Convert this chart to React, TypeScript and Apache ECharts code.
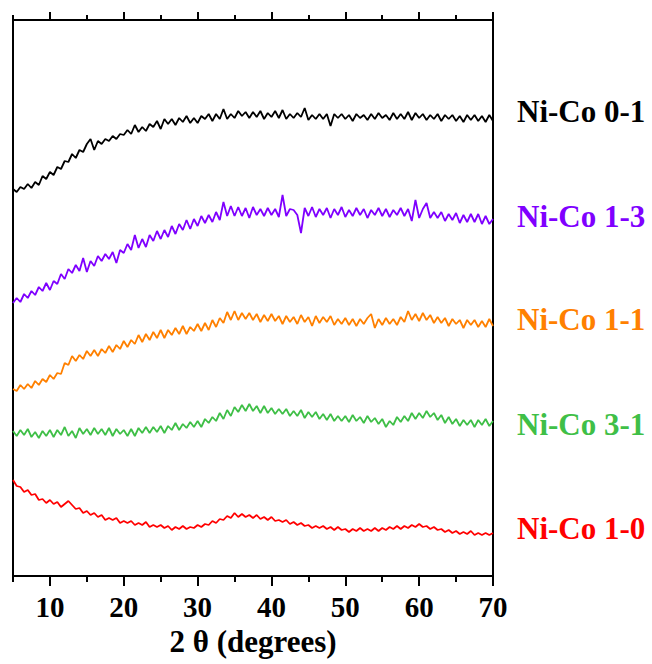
import React, { useEffect, useRef } from "react";
import * as echarts from "echarts";

// 2θ sampling positions (degrees)
const twoTheta = [
  5, 5.5, 6, 6.5, 7, 7.5, 8, 8.5, 9, 9.5,
  10, 10.5, 11, 11.5, 12, 12.5, 13, 13.5, 14, 14.5,
  15, 15.5, 16, 16.5, 17, 17.5, 18, 18.5, 19, 19.5,
  20, 20.5, 21, 21.5, 22, 22.5, 23, 23.5, 24, 24.5,
  25, 25.5, 26, 26.5, 27, 27.5, 28, 28.5, 29, 29.5,
  30, 30.5, 31, 31.5, 32, 32.5, 33, 33.5, 34, 34.5,
  35, 35.5, 36, 36.5, 37, 37.5, 38, 38.5, 39, 39.5,
  40, 40.5, 41, 41.5, 42, 42.5, 43, 43.5, 44, 44.5,
  45, 45.5, 46, 46.5, 47, 47.5, 48, 48.5, 49, 49.5,
  50, 50.5, 51, 51.5, 52, 52.5, 53, 53.5, 54, 54.5,
  55, 55.5, 56, 56.5, 57, 57.5, 58, 58.5, 59, 59.5,
  60, 60.5, 61, 61.5, 62, 62.5, 63, 63.5, 64, 64.5,
  65, 65.5, 66, 66.5, 67, 67.5, 68, 68.5, 69, 69.5,
  70,
];

// Stacked intensities (a.u., offset per sample)
const niCo01 = [
  387, 384, 389, 387, 392, 388, 394, 391, 400, 397,
  404, 401, 409, 407, 415, 414, 422, 418, 426, 424,
  432, 437, 426, 435, 432, 437, 435, 440, 437, 442,
  441, 446, 442, 451, 444, 449, 445, 452, 449, 455,
  447, 457, 452, 457, 451, 458, 454, 460, 453, 458,
  453, 460, 457, 462, 455, 462, 457, 467, 457, 462,
  458, 465, 460, 464, 458, 464, 459, 465, 457, 463,
  459, 465, 458, 466, 457, 462, 458, 463, 459, 468,
  456, 461, 457, 462, 457, 462, 450, 462, 458, 462,
  457, 461, 455, 462, 458, 461, 456, 462, 457, 463,
  458, 461, 456, 463, 457, 462, 457, 464, 456, 463,
  458, 462, 456, 461, 457, 462, 455, 461, 457, 461,
  455, 460, 454, 461, 456, 461, 455, 460, 454, 461,
  455,
];

const niCo13 = [
  273, 278, 274, 282, 278, 285, 281, 289, 285, 293,
  286, 295, 292, 302, 297, 307, 303, 311, 305, 318,
  304, 315, 310, 320, 315, 322, 317, 324, 313, 326,
  323, 332, 326, 341, 328, 337, 329, 341, 335, 345,
  337, 346, 339, 350, 342, 352, 346, 356, 347, 357,
  350, 360, 353, 361, 354, 364, 356, 374, 360, 370,
  360, 369, 360, 368, 358, 369, 361, 367, 360, 368,
  361, 367, 359, 381, 360, 367, 366, 361, 343, 368,
  360, 369, 359, 367, 361, 368, 358, 367, 361, 369,
  359, 366, 360, 368, 361, 367, 358, 366, 361, 368,
  360, 367, 359, 366, 361, 368, 360, 367, 355, 376,
  358, 367, 373, 358, 364, 358, 364, 355, 362, 356,
  363, 353, 361, 354, 362, 354, 362, 352, 360, 352,
  357,
];

const niCo11 = [
  187, 185, 191, 187, 192, 188, 195, 191, 197, 194,
  201, 197, 203, 202, 213, 211, 220, 215, 221, 217,
  225, 220, 226, 220, 227, 223, 230, 224, 231, 227,
  235, 229, 236, 232, 241, 234, 242, 236, 244, 238,
  246, 238, 246, 241, 248, 242, 250, 242, 249, 245,
  252, 245, 253, 246, 256, 249, 258, 253, 264, 256,
  265, 256, 263, 257, 263, 256, 262, 254, 261, 255,
  262, 255, 260, 252, 260, 254, 259, 252, 261, 254,
  259, 250, 260, 253, 259, 254, 260, 251, 257, 252,
  258, 251, 257, 250, 257, 252, 258, 262, 248, 257,
  251, 258, 252, 257, 251, 259, 254, 265, 256, 262,
  255, 263, 256, 261, 253, 259, 253, 258, 250, 257,
  252, 256, 248, 256, 251, 256, 249, 255, 249, 257,
  250,
];

const niCo31 = [
  145, 140, 146, 141, 147, 139, 144, 138, 145, 140,
  146, 139, 146, 141, 149, 140, 145, 138, 148, 142,
  147, 141, 148, 142, 147, 141, 148, 140, 147, 142,
  146, 140, 147, 140, 148, 143, 149, 143, 149, 144,
  150, 143, 150, 146, 153, 146, 152, 148, 154, 149,
  155, 149, 157, 153, 159, 155, 163, 157, 166, 160,
  169, 164, 171, 165, 172, 165, 170, 163, 170, 163,
  168, 162, 167, 162, 167, 160, 165, 160, 166, 158,
  164, 159, 164, 157, 162, 156, 162, 155, 160, 155,
  160, 154, 161, 155, 159, 153, 160, 154, 158, 152,
  157, 149, 155, 151, 159, 154, 160, 155, 163, 157,
  163, 158, 165, 159, 163, 156, 161, 153, 159, 152,
  157, 150, 156, 151, 156, 149, 156, 151, 157, 150,
  155,
];

const niCo10 = [
  96, 90, 89, 84, 86, 81, 82, 76, 77, 73,
  76, 72, 74, 69, 72, 75, 71, 67, 68, 63,
  65, 61, 63, 59, 61, 56, 58, 56, 58, 53,
  55, 53, 55, 51, 53, 51, 54, 49, 51, 49,
  51, 48, 50, 46, 49, 47, 50, 47, 49, 48,
  51, 49, 52, 51, 55, 53, 57, 56, 60, 58,
  63, 59, 62, 59, 61, 58, 61, 57, 59, 56,
  59, 55, 56, 54, 56, 52, 54, 51, 53, 50,
  51, 48, 50, 48, 50, 47, 49, 46, 49, 46,
  47, 44, 47, 45, 48, 45, 47, 45, 48, 45,
  48, 46, 49, 47, 50, 47, 50, 48, 51, 49,
  52, 49, 50, 47, 49, 46, 47, 44, 46, 43,
  45, 42, 44, 42, 45, 41, 43, 41, 43, 41,
  43,
];

const seriesNames = ["Ni-Co 0-1", "Ni-Co 1-3", "Ni-Co 1-1", "Ni-Co 3-1", "Ni-Co 1-0"];
const seriesData = [niCo01, niCo13, niCo11, niCo31, niCo10];
const seriesColors = ["#000000", "#7f00ff", "#ff8000", "#3fbf47", "#ff0000"];
const labelCenterY = [111, 216, 319, 424, 528];

const majorTicks = [10, 20, 30, 40, 50, 60, 70];
const minorTicks = [5, 15, 25, 35, 45, 55, 65];

const FONT = "Liberation Serif";

function buildOption(): any {
  const baseX = { type: "value", min: 5, max: 70, splitLine: { show: false } };
  const lineStyle = { color: "#000", width: 2 };
  return {
    animation: false,
    textStyle: { fontFamily: FONT },
    grid: { left: 13, right: 159, top: 20, bottom: 88 },
    xAxis: [
      {
        ...baseX,
        position: "bottom",
        axisLine: { show: true, lineStyle },
        axisTick: { show: true, inside: false, length: 10, customValues: majorTicks, lineStyle },
        axisLabel: {
          show: true,
          customValues: majorTicks,
          margin: 16,
          color: "#000",
          fontFamily: FONT,
          fontWeight: "bold",
          fontSize: 29,
        },
        name: "2 θ (degrees)",
        nameLocation: "middle",
        nameGap: 46,
        nameTextStyle: { color: "#000", fontFamily: FONT, fontWeight: "bold", fontSize: 31 },
      },
      {
        ...baseX,
        position: "bottom",
        axisLine: { show: false },
        axisTick: { show: true, inside: false, length: 6, customValues: minorTicks, lineStyle },
        axisLabel: { show: false },
      },
      {
        ...baseX,
        position: "top",
        axisLine: { show: true, lineStyle },
        axisTick: { show: true, inside: false, length: 8, customValues: majorTicks, lineStyle },
        axisLabel: { show: false },
      },
      {
        ...baseX,
        position: "top",
        axisLine: { show: false },
        axisTick: { show: true, inside: false, length: 5, customValues: minorTicks, lineStyle },
        axisLabel: { show: false },
      },
    ],
    yAxis: [
      {
        type: "value",
        min: 0,
        max: 556,
        position: "left",
        axisLine: { show: true, lineStyle },
        axisTick: { show: false },
        axisLabel: { show: false },
        splitLine: { show: false },
      },
      {
        type: "value",
        min: 0,
        max: 556,
        position: "right",
        axisLine: { show: true, lineStyle },
        axisTick: { show: false },
        axisLabel: { show: false },
        splitLine: { show: false },
      },
    ],
    series: seriesNames.map((name, i) => ({
      name,
      type: "line",
      xAxisIndex: 0,
      yAxisIndex: 0,
      showSymbol: false,
      symbol: "none",
      data: twoTheta.map((x, j) => [x, seriesData[i][j]]),
      lineStyle: { color: seriesColors[i], width: 1.8 },
      itemStyle: { color: seriesColors[i] },
      silent: true,
    })),
    graphic: seriesNames.map((name, i) => ({
      type: "text",
      x: 517,
      y: labelCenterY[i],
      style: {
        text: name,
        fill: seriesColors[i],
        fontFamily: FONT,
        fontWeight: "bold",
        fontSize: 31,
        align: "left",
        verticalAlign: "middle",
      },
    })),
  };
}

export default function App() {
  const ref = useRef<HTMLDivElement>(null);

  useEffect(() => {
    if (!ref.current) return;
    const chart = echarts.init(ref.current, null, { renderer: "svg" });
    chart.setOption(buildOption());
    let alive = true;
    const redraw = () => {
      if (!alive) return;
      chart.clear();
      chart.setOption(buildOption());
    };
    const fonts: any = (document as any).fonts;
    if (fonts && fonts.load) {
      Promise.all([
        fonts.load(`bold 31px "${FONT}"`, "Ni-Co 0-1 2 θ (degrees)"),
        fonts.load(`bold 29px "${FONT}"`, "1234567890"),
      ])
        .then(redraw)
        .catch(() => {});
    }
    const t = window.setTimeout(redraw, 150);
    return () => {
      alive = false;
      window.clearTimeout(t);
      chart.dispose();
    };
  }, []);

  return <div ref={ref} style={{ position: "absolute", left: 0, top: 0, width: 652, height: 664 }} />;
}
